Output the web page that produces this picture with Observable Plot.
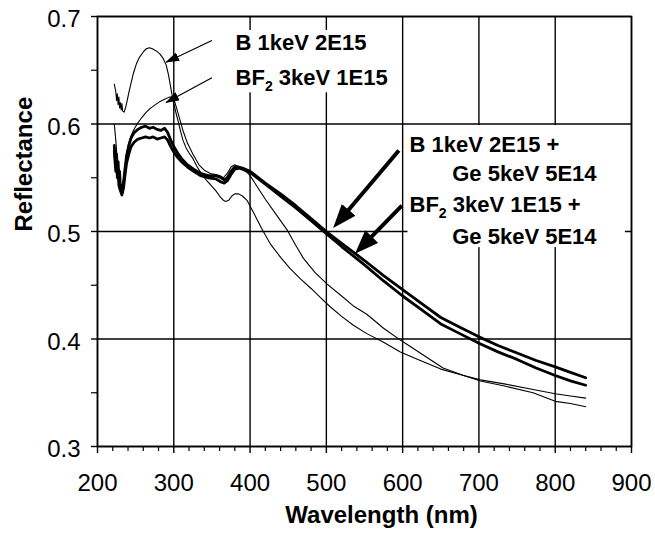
<!DOCTYPE html>
<html><head><meta charset="utf-8">
<script src="https://cdn.jsdelivr.net/npm/d3@7"></script>
<script src="https://cdn.jsdelivr.net/npm/@observablehq/plot@0.6"></script>
<style>html,body{margin:0;padding:0;background:#fff}#chart{width:655px;height:535px}</style>
</head><body><div id="chart"></div>
<script>
// ---- series: thin B 1keV 2E15 ----
const bNm = [222,224,225,226,227,228,229,230,231,232,233,235,237,239,241,244,247,251,255,260,264,268,272,277,282,286,290,293,296,299,303,306,309,312,316,320,325,330,335,340,345,350,355,360,365,368,372,376,380,385,390,396,405,415,427,440,452,466,480,493,505,520,535,553,575,597,620,650,675,702,735,771,800,820,840];
const bR  = [.637,.630,.622,.628,.618,.625,.615,.620,.613,.619,.612,.611,.616,.622,.629,.638,.647,.656,.662,.667,.670,.671,.670,.668,.665,.661,.655,.646,.634,.622,.610,.602,.593,.585,.578,.573,.568,.561,.555,.550,.546,.542,.538,.533,.529,.528,.529,.533,.535,.535,.533,.529,.517,.503,.488,.476,.466,.456,.447,.438,.430,.421,.413,.405,.397,.388,.381,.372,.367,.362,.358,.353,.349,.347,.345];
// ---- series: thin BF2 3keV 1E15 ----
const bf2Nm = [222,224,226,228,230,232,234,236,238,241,244,247,252,258,264,270,276,282,288,294,298,301,304,308,312,318,325,333,340,348,355,360,365,370,375,380,385,390,396,400,410,420,435,449,460,470,485,501,520,535,553,575,597,625,653,680,702,735,771,800,820,840];
const bf2R  = [.600,.585,.565,.552,.545,.542,.548,.560,.572,.582,.589,.594,.600,.606,.611,.615,.618,.621,.623,.625,.625,.621,.614,.604,.594,.582,.572,.562,.557,.554,.553,.552,.550,.554,.560,.562,.560,.558,.555,.552,.541,.530,.515,.501,.487,.475,.462,.451,.440,.431,.423,.410,.399,.386,.373,.366,.361,.356,.350,.342,.340,.337];
// ---- series: thick B 1keV 2E15 + Ge 5keV 5E14 ----
const bGeNm = [222,223,224,225,226,227,228,229,230,232,234,236,238,241,244,248,253,258,263,268,273,278,283,288,292,296,300,305,310,318,326,335,345,355,362,366,370,375,380,385,390,400,420,440,460,480,500,520,550,575,600,625,650,675,700,725,750,775,800,820,840];
const bGeR  = [.580,.570,.560,.572,.555,.565,.548,.556,.540,.537,.545,.558,.570,.580,.587,.592,.595,.597,.598,.596,.597,.595,.594,.596,.592,.585,.579,.573,.568,.562,.558,.554,.552,.552,.550,.548,.550,.556,.560,.560,.559,.556,.545,.535,.524,.512,.500,.489,.473,.459,.446,.433,.420,.411,.402,.394,.387,.380,.374,.369,.364];
// ---- series: thick BF2 3keV 1E15 + Ge 5keV 5E14 ----
const bf2GeNm = [222,223,224,225,226,227,228,230,232,234,236,238,241,244,248,253,258,263,268,273,278,283,288,292,296,300,305,310,318,326,335,345,355,362,366,370,375,380,385,390,400,420,440,460,480,500,520,550,575,600,625,650,675,700,725,750,775,800,820,840];
const bf2GeR  = [.575,.565,.556,.566,.550,.558,.543,.538,.534,.540,.552,.563,.572,.579,.583,.586,.587,.588,.587,.588,.586,.587,.588,.585,.579,.574,.569,.565,.560,.556,.552,.550,.549,.546,.545,.547,.553,.558,.559,.558,.555,.544,.533,.522,.510,.498,.486,.469,.454,.440,.427,.414,.405,.396,.388,.381,.373,.366,.361,.357];

// ---- axes ----
const xMajor = [200,300,400,500,600,700,800,900];
const xMinor = d3.range(200, 901, 20).filter(v => v % 100 !== 0);
const yMajor = [0.3,0.4,0.5,0.6,0.7];
const yMinor = [0.35,0.45,0.55,0.65];

// ---- annotations ----
const labelText = ["B 1keV 2E15", "BF\u2082 3keV 1E15", "B 1keV 2E15 +", "Ge 5keV 5E14", "BF\u2082 3keV 1E15 +", "Ge 5keV 5E14"];
const labelNm   = [381, 381, 609, 665, 609, 665];
const labelR    = [.6684, .6367, .5744, .5474, .5186, .4888];
const boxNm1 = [372, 607], boxNm2 = [587, 892], boxR1 = [.629, .485], boxR2 = [.687, .5986];
const thinArrowNm1 = [350, 350], thinArrowR1 = [.6777, .643], thinArrowNm2 = [290, 290], thinArrowR2 = [.6575, .620];
const thickArrowNm1 = [595, 599], thickArrowR1 = [.5753, .524], thickArrowNm2 = [514, 543], thickArrowR2 = [.5074, .4833];

const mk = (name, nm, r) => nm.map((x, i) => ({series: name, nm: x, r: r[i]}));
const thinRows = [...mk("B", bNm, bR), ...mk("BF2", bf2Nm, bf2R)];
const thickRows = [...mk("BGe", bGeNm, bGeR), ...mk("BF2Ge", bf2GeNm, bf2GeR)];
const idx = a => a.map((_, i) => i);

const font = "'Liberation Sans', Arial, Helvetica, sans-serif";
const plot = Plot.plot({
  width: 655, height: 535,
  marginLeft: 97, marginRight: 24, marginTop: 16, marginBottom: 89,
  style: {fontFamily: font, fontSize: "24px", color: "black", background: "white"},
  x: {domain: [200, 900]},
  y: {domain: [0.3, 0.7]},
  marks: [
    Plot.gridX(xMajor, {stroke: "black", strokeOpacity: 1, strokeWidth: 1.4}),
    Plot.gridY(yMajor, {stroke: "black", strokeOpacity: 1, strokeWidth: 1.4}),
    Plot.frame({stroke: "black", strokeWidth: 1.6}),
    Plot.axisX(xMajor, {tickSize: 7, tickPadding: 20, fontSize: 24, label: null, tickFormat: d => String(d), strokeWidth: 1.4}),
    Plot.axisX(xMinor, {tickSize: 5, label: null, tickFormat: () => "", strokeWidth: 1.2}),
    Plot.axisY(yMajor, {tickSize: 6, label: null, tickFormat: () => "", strokeWidth: 1.4}),
    Plot.axisY(yMajor, {tickSize: 0, tickPadding: 17, fontSize: 24, label: null, tickFormat: d3.format(".1f"), dy: 3}),
    Plot.axisY(yMinor, {tickSize: 6, label: null, tickFormat: () => "", strokeWidth: 1.2}),
    Plot.rect(idx(boxNm1), {x1: i => boxNm1[i], x2: i => boxNm2[i], y1: i => boxR1[i], y2: i => boxR2[i], fill: "white"}),
    Plot.line(thinRows, {x: "nm", y: "r", z: "series", stroke: "black", strokeWidth: 1.1}),
    Plot.line(thickRows, {x: "nm", y: "r", z: "series", stroke: "black", strokeWidth: 2.8, strokeLinejoin: "round"}),
    Plot.link(idx(thinArrowNm1), {x1: i => thinArrowNm1[i], y1: i => thinArrowR1[i], x2: i => thinArrowNm2[i], y2: i => thinArrowR2[i], stroke: "black", strokeWidth: 1.2, className: "thin-arrow"}),
    Plot.link(idx(thickArrowNm1), {x1: i => thickArrowNm1[i], y1: i => thickArrowR1[i], x2: i => thickArrowNm2[i], y2: i => thickArrowR2[i], stroke: "black", strokeWidth: 4, className: "thick-arrow"}),
    Plot.text(idx(labelText), {x: i => labelNm[i], y: i => labelR[i], text: i => labelText[i], textAnchor: "start", lineAnchor: "bottom", fontSize: 22, fontWeight: "bold", fill: "black", className: "ann-label"}),
    Plot.text(["Reflectance"], {frameAnchor: "left", rotate: -90, dx: -73, fontSize: 24, fontWeight: "bold", fill: "black"}),
    Plot.text(["Wavelength (nm)"], {frameAnchor: "bottom", dx: 17, dy: 76, lineAnchor: "bottom", fontSize: 24, fontWeight: "bold", fill: "black"})
  ]
});

// filled arrowheads
const ns = "http://www.w3.org/2000/svg";
const defs = document.createElementNS(ns, "defs");
function addMarker(id, len, wid, ref) {
  const m = document.createElementNS(ns, "marker");
  m.setAttribute("id", id);
  m.setAttribute("viewBox", `0 0 ${len} ${wid}`);
  m.setAttribute("refX", ref);
  m.setAttribute("refY", wid / 2);
  m.setAttribute("markerWidth", len);
  m.setAttribute("markerHeight", wid);
  m.setAttribute("markerUnits", "userSpaceOnUse");
  m.setAttribute("orient", "auto");
  const p = document.createElementNS(ns, "path");
  p.setAttribute("d", `M0,0L${len},${wid/2}L0,${wid}Z`);
  p.setAttribute("fill", "black");
  m.appendChild(p);
  defs.appendChild(m);
}
addMarker("headThin", 14, 9, 13);
addMarker("headThick", 24, 18, 18);
plot.insertBefore(defs, plot.firstChild);
plot.querySelectorAll(".thin-arrow path, .thin-arrow line").forEach(e => e.setAttribute("marker-end", "url(#headThin)"));
plot.querySelectorAll(".thick-arrow path, .thick-arrow line").forEach(e => e.setAttribute("marker-end", "url(#headThick)"));

// real subscript for BF2
plot.querySelectorAll(".ann-label text").forEach(t => {
  const s = t.textContent;
  const k = s.indexOf("\u2082");
  if (k < 0) return;
  while (t.firstChild) t.removeChild(t.firstChild);
  const a = document.createElementNS(ns, "tspan"); a.textContent = s.slice(0, k);
  const b = document.createElementNS(ns, "tspan"); b.textContent = "2"; b.setAttribute("font-size", "14"); b.setAttribute("dy", "6");
  const c = document.createElementNS(ns, "tspan"); c.textContent = s.slice(k + 1); c.setAttribute("dy", "-6");
  t.append(a, b, c);
});

document.getElementById("chart").appendChild(plot);
</script>
</body></html>
